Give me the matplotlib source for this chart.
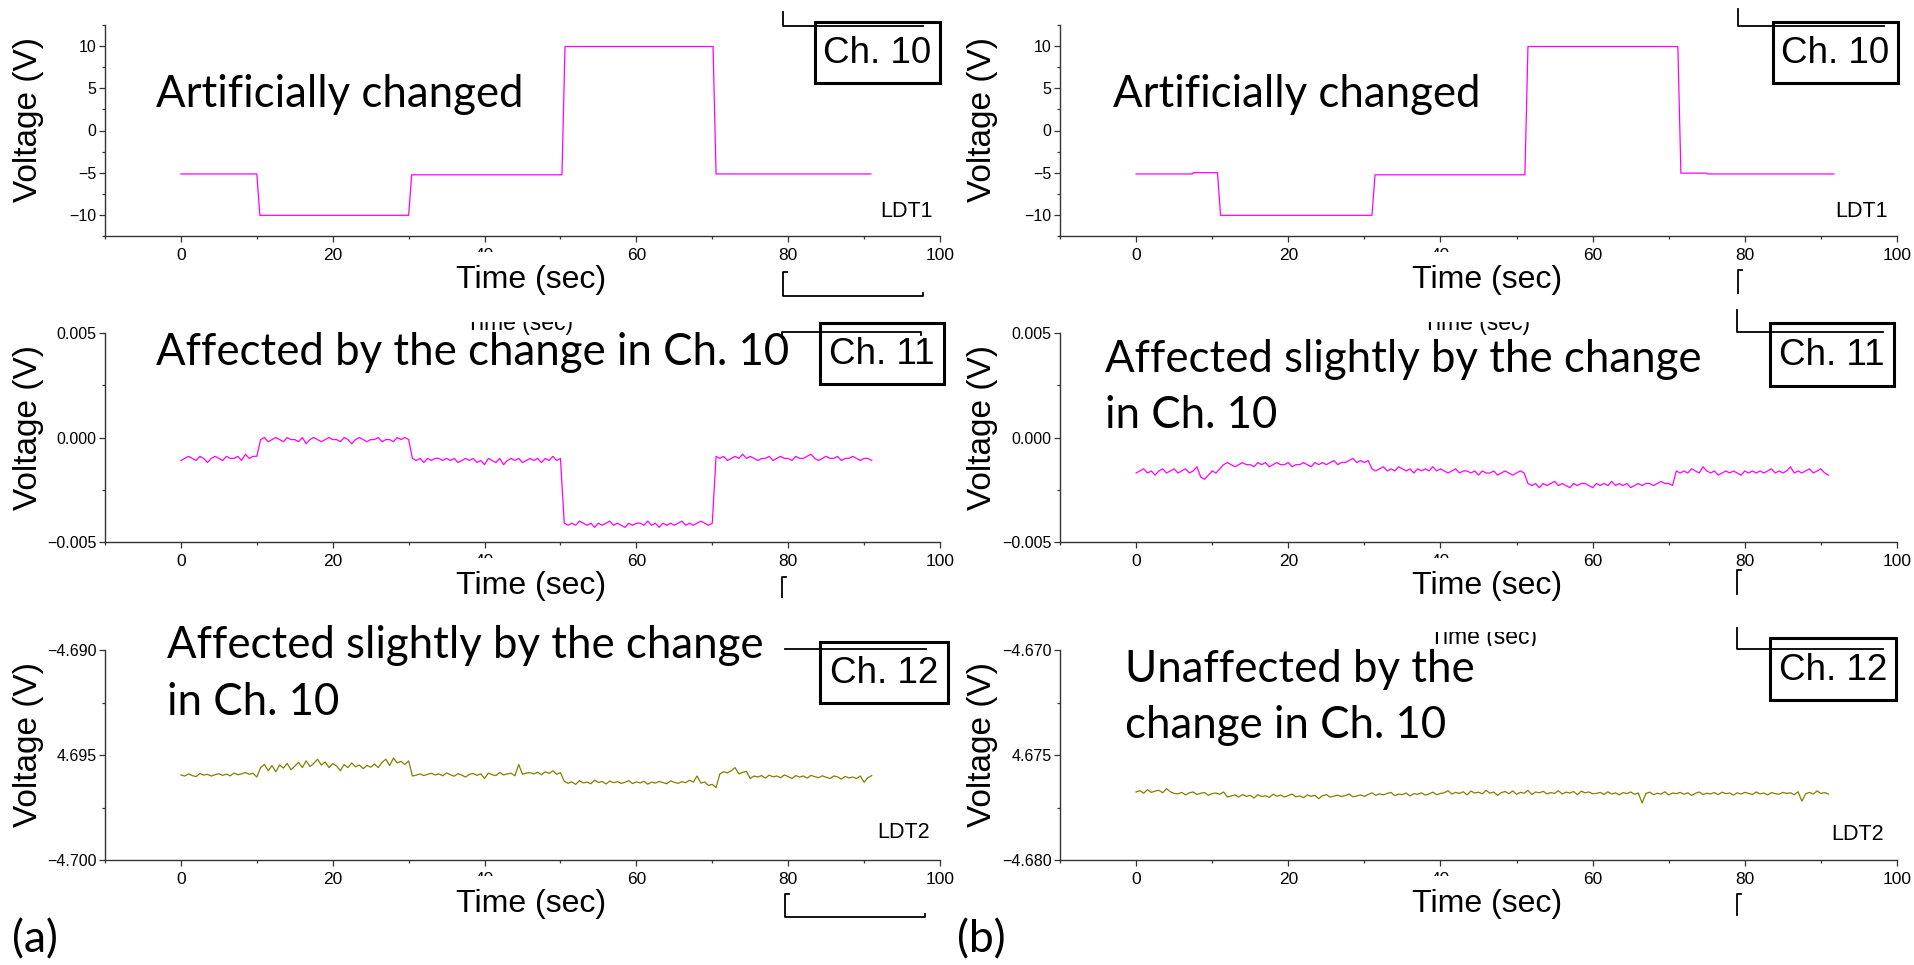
import numpy as np
import matplotlib
matplotlib.use('Agg')
from matplotlib import pyplot as plt
from matplotlib import font_manager
from matplotlib.patches import Rectangle
from matplotlib.lines import Line2D
from matplotlib.ticker import FixedLocator, FixedFormatter, MultipleLocator
from matplotlib.transforms import Bbox, TransformedBbox

W, H = 1915, 965

# ---- data ----
# Ch. 10 (step signal, breakpoints in sec / V)
ch10a_t = [0, 10.0, 10.4, 30.0, 30.4, 50.2, 50.6, 70.1, 70.5, 90.9]
ch10a_v = [-5.15, -5.15, -10.05, -10.05, -5.25, -5.25, 9.95, 9.95, -5.15, -5.15]
ch10b_t = [0, 7.4, 7.5, 10.7, 11.1, 31.0, 31.4, 51.1, 51.5, 71.2, 71.6, 75.0, 75.1, 91.7]
ch10b_v = [-5.15, -5.15, -5.0, -5.0, -10.05, -10.05, -5.25, -5.25, 9.95, 9.95, -5.05, -5.05, -5.15, -5.15]

# Ch. 11, samples every 0.5 s, in units of 0.1 mV
ch11a = [-11, -10, -9, -10, -11, -9, -10, -12, -10, -9, -10, -11, -9, -10, -10, -9, -11, -8, -10, -9, -9,
         -1, 0, -2, -1, 0, -1, -2, 0, -1, -1, -2, 0, -3, -1, 0, -1, -2, -1, 0, -1,
         -1, -2, 0, -1, -3, -1, 0, -1, -2, -1, -1, 0, -2, -1, -1, -2, 0, -1, 0, -1,
         -10, -11, -10, -12, -10, -11, -10, -10, -11, -10, -11, -10, -12, -11, -10, -11, -10, -12, -11, -13,
         -10, -11, -12, -10, -13, -11, -10, -11, -10, -12, -11, -10, -11, -10, -12, -10, -11, -9, -11, -10,
         -41, -42, -41, -42, -40, -41, -42, -41, -43, -41, -42, -41, -40, -42, -41, -42, -43, -41, -42, -41,
         -41, -42, -40, -42, -41, -43, -41, -42, -41, -42, -41, -40, -42, -41, -42, -41, -40, -41, -42, -41,
         -9, -10, -9, -11, -10, -9, -10, -8, -10, -9, -10, -11, -10, -10, -9, -11, -10, -9, -10, -10,
         -11, -9, -10, -10, -9, -8, -10, -11, -10, -9, -10, -10, -9, -11, -10, -10, -9, -10, -11, -10, -10, -11]
ch11b = [-17, -16, -15, -17, -16, -18, -16, -15, -17, -16, -15, -17, -16, -15, -17, -16, -14, -19, -20, -18, -16, -17, -15,
         -13, -12, -13, -14, -13, -12, -13, -13, -14, -12, -13, -12, -14, -13, -12, -13, -13, -12, -14, -13,
         -13, -12, -13, -14, -12, -13, -12, -13, -12, -11, -13, -12, -12, -11, -10, -12, -11, -12, -11,
         -15, -16, -15, -14, -16, -15, -16, -14, -15, -16, -15, -17, -15, -16, -15, -16, -14, -16, -15, -16,
         -17, -16, -15, -17, -16, -16, -17, -16, -18, -16, -17, -17, -16, -18, -17, -16, -17, -18, -17, -16, -17,
         -22, -23, -22, -24, -22, -23, -22, -21, -23, -22, -23, -24, -22, -23, -22, -22, -23, -24, -22, -23,
         -22, -23, -21, -23, -22, -23, -22, -24, -23, -22, -23, -22, -22, -23, -22, -21, -22, -22, -23,
         -16, -17, -16, -17, -15, -16, -17, -14, -16, -17, -16, -18, -17, -16, -17, -16, -17, -18, -16, -17,
         -16, -17, -16, -17, -16, -15, -17, -16, -17, -16, -14, -17, -16, -17, -16, -15, -17, -16, -15, -17, -18]

# Ch. 12, samples every 0.5 s, offsets in units of 10 uV from the top tick
ch12a_top = -4.690
ch12a = [-595, -600, -590, -598, -603, -588, -596, -592, -600, -594, -589, -597, -591, -599, -586, -594, -590, -583, -592, -587, -605,
         -560, -545, -575, -550, -580, -548, -562, -540, -570, -553, -535, -560, -528, -555, -540, -520, -548, -533, -560, -541,
         -552, -575, -545, -560, -538, -556, -548, -565, -550, -558, -543, -560, -535, -520, -550, -515, -538, -530, -545, -528,
         -600, -596, -590, -598, -592, -587, -595, -590, -599, -585, -594, -601, -589, -596, -605, -592, -588, -597, -590, -612,
         -586, -594, -598, -583, -595, -590, -587, -599, -545, -592, -586, -584, -590, -582, -594, -580, -588, -575, -592, -584,
         -625, -635, -628, -640, -622, -633, -629, -637, -620, -631, -626, -638, -624, -632, -627, -635, -630, -622, -636, -628,
         -633, -625, -639, -629, -634, -626, -631, -637, -623, -630, -635, -627, -632, -620, -629, -600, -634, -628, -645, -640, -655,
         -590, -580, -585, -575, -560, -590, -583, -578, -612, -600, -605, -598, -610, -596, -604, -600, -608, -595, -603, -612,
         -598, -605, -600, -610, -597, -603, -608, -599, -606, -612, -600, -604, -615, -602, -609, -605, -612, -600, -630, -608, -598]
ch12b_top = -4.670
ch12b = [-676, -670, -682, -665, -678, -672, -668, -680, -660, -675, -683,
         -685, -678, -690, -680, -676, -688, -682, -679, -692, -684, -681, -687, -676, -700,
         -695, -690, -700, -688, -697, -692, -705, -689, -698, -694, -702, -687, -696, -691, -700, -693, -686, -699,
         -695, -703, -690, -697, -692, -708, -694, -689, -700, -696, -691, -698, -693, -686, -699, -695, -690, -697,
         -688, -680, -692, -685, -690, -683, -678, -694, -686, -689, -681, -695, -684, -687, -680, -691, -685, -677, -689, -683,
         -680, -670, -686, -678, -683, -675, -690, -672, -681, -677, -685, -668, -682, -676, -692, -679, -674, -684, -671, -687,
         -678, -682, -669, -688, -676, -680, -673, -685, -679, -683, -670, -686, -677, -681, -674, -689, -672, -680, -676, -684,
         -683, -678, -688, -675, -686, -680, -690, -679, -684, -676, -687, -681, -728, -683, -677, -689, -682, -686, -675, -690,
         -681, -684, -678, -687, -680, -692, -683, -676, -688, -682, -685, -679, -689, -677, -684, -681, -691, -680, -686, -678,
         -683, -688, -676, -685, -681, -690, -679, -684, -687, -678, -683, -680, -689, -675, -720, -684, -678, -686, -671, -683,
         -679, -686]

sample_step = 0.5

yticks_top = [-10, -5, 0, 5, 10]
yticklabels_top = ['\u221210', '\u22125', '0', '5', '10']
yticks_mid = [-0.005, 0.0, 0.005]
yticklabels_mid = ['\u22120.005', '0.000', '0.005']
yticks_bot_a = [-4.700, -4.695, -4.690]
yticklabels_bot_a = ['\u22124.700', '4.695', '\u22124.690']
yticks_bot_b = [-4.680, -4.675, -4.670]
yticklabels_bot_b = ['\u22124.680', '4.675', '\u22124.670']
xticks = [0, 20, 40, 60, 80, 100]

MAGENTA = '#ff00ff'
OLIVE = '#808000'

installed = {f.name for f in font_manager.fontManager.ttflist}
SANS = 'Liberation Sans' if 'Liberation Sans' in installed else 'DejaVu Sans'
NOTE = next((n for n in ['Lato', 'Open Sans', 'Noto Sans'] if n in installed), SANS)
plt.rcParams['font.family'] = SANS


def fx(x):
    return x / W


def fy(y):
    return 1 - y / H


def series(vals, scale, offset=0.0):
    v = offset + np.array(vals, dtype=float) * scale
    t = sample_step * np.arange(len(v))
    return t, v


def clip_rows(artist, top, bottom):
    # keep only the part of an artist between two pixel rows
    artist.set_clip_box(TransformedBbox(Bbox([[0, fy(bottom)], [1, fy(top)]]), fig.transFigure))
    artist.set_clip_on(True)


fig = plt.figure(figsize=(W / 100, H / 100), dpi=100)

cols = {'a': (105, 940), 'b': (1060, 1897)}
rows = [(25, 236), (333, 542), (650, 860)]

panels = [
    # col, row, data, color, ylim, ticks, labels, minor
    ('a', 0, (ch10a_t, ch10a_v), MAGENTA, (-12.5, 12.5), yticks_top, yticklabels_top, 2.5),
    ('b', 0, (ch10b_t, ch10b_v), MAGENTA, (-12.5, 12.5), yticks_top, yticklabels_top, 2.5),
    ('a', 1, series(ch11a, 1e-4), MAGENTA, (-0.005, 0.005), yticks_mid, yticklabels_mid, 0.0025),
    ('b', 1, series(ch11b, 1e-4), MAGENTA, (-0.005, 0.005), yticks_mid, yticklabels_mid, 0.0025),
    ('a', 2, series(ch12a, 1e-5, ch12a_top), OLIVE, (-4.700, -4.690), yticks_bot_a, yticklabels_bot_a, 0.0025),
    ('b', 2, series(ch12b, 1e-5, ch12b_top), OLIVE, (-4.680, -4.670), yticks_bot_b, yticklabels_bot_b, 0.0025),
]

for col, row, (t, v), color, ylim, yt, ytl, minor in panels:
    x0, x1 = cols[col]
    y0, y1 = rows[row]
    ax = fig.add_axes([fx(x0), fy(y1), (x1 - x0) / W, (y1 - y0) / H])
    ax.set_facecolor('none')
    ax.plot(t, v, color=color, lw=0.9)
    ax.set_xlim(-10, 100)
    ax.set_ylim(*ylim)
    ax.xaxis.set_major_locator(FixedLocator(xticks))
    ax.xaxis.set_minor_locator(MultipleLocator(10))
    ax.yaxis.set_major_locator(FixedLocator(yt))
    ax.yaxis.set_major_formatter(FixedFormatter(ytl))
    ax.yaxis.set_minor_locator(MultipleLocator(minor))
    for s in ['top', 'right']:
        ax.spines[s].set_visible(False)
    for s in ['left', 'bottom']:
        ax.spines[s].set_color('#333333')
        ax.spines[s].set_linewidth(1.0)
    ax.tick_params(which='major', direction='out', length=4, width=0.9, color='#333333')
    ax.tick_params(which='minor', direction='out', length=2.5, width=0.9, color='#333333')
    ax.tick_params(axis='x', labelsize=12.5, pad=5)
    ax.tick_params(axis='y', labelsize=11.5, pad=2)
    ax.set_xlabel('Time (sec)', fontsize=23, va='center')
    ax.xaxis.set_label_coords(0.51, -0.21)
    ax.set_ylabel('Voltage (V)', fontsize=24, va='center')
    ax.yaxis.set_label_coords(-0.092, 0.55)
    # the "40" label is covered in the reference, only its top shows
    clip_rows(ax.xaxis.get_major_ticks()[2].label1, y1, y1 + 16)

# channel boxes: (x0, y0, x1, y1, label)
boxes = [
    (815, 22, 940, 83, 'Ch. 10'),
    (820, 323, 944, 384, 'Ch. 11'),
    (820, 642, 948, 703, 'Ch. 12'),
    (1773, 22, 1898, 83, 'Ch. 10'),
    (1770, 323, 1894, 386, 'Ch. 11'),
    (1770, 638, 1896, 700, 'Ch. 12'),
]
for x0, y0, x1, y1, lab in boxes:
    fig.patches.append(Rectangle((fx(x0), fy(y1)), (x1 - x0) / W, (y1 - y0) / H,
                                 transform=fig.transFigure, fill=False, lw=2.2, ec='black'))
    fig.text(fx((x0 + x1) / 2), fy((y0 + y1) / 2 + 1), lab, ha='center', va='center', fontsize=26.5)

# notes: (x, baseline, text)
notes = [
    (156, 107, 'Artificially changed'),
    (1113, 107, 'Artificially changed'),
    (156, 365, 'Affected by the change in Ch. 10'),
    (1105, 372, 'Affected slightly by the change'),
    (1105, 428, 'in Ch. 10'),
    (167, 658, 'Affected slightly by the change'),
    (167, 715, 'in Ch. 10'),
    (1125, 682, 'Unaffected by the'),
    (1125, 738, 'change in Ch. 10'),
]
for x, y, s in notes:
    fig.text(fx(x), fy(y), s, ha='left', va='baseline', fontsize=31.5, family=NOTE)

for x, y, s in [(880, 217, 'LDT1'), (1835, 217, 'LDT1'), (877, 838, 'LDT2'), (1831, 840, 'LDT2')]:
    fig.text(fx(x), fy(y), s, ha='left', va='baseline', fontsize=15.5)

fig.text(fx(12), fy(952), '(a)', ha='left', va='baseline', fontsize=32, family=NOTE)
fig.text(fx(957), fy(952), '(b)', ha='left', va='baseline', fontsize=32, family=NOTE)

# leftover fragments of the underlying plot layers
frag_lines = [
    [(783, 12), (783, 26), (923, 26)],
    [(787, 272), (783, 272), (783, 296), (923, 296), (923, 293)],
    [(782, 335), (782, 332), (921, 332), (921, 335)],
    [(786, 577), (782, 577), (782, 597)],
    [(785, 649), (926, 649)],
    [(789, 894), (785, 894), (785, 917), (925, 917), (925, 914)],
    [(1738, 9), (1738, 26), (1884, 26)],
    [(1742, 270), (1738, 270), (1738, 293)],
    [(1737, 310), (1737, 332), (1883, 332)],
    [(1741, 570), (1737, 570), (1737, 594)],
    [(1737, 628), (1737, 649), (1883, 649)],
    [(1741, 894), (1737, 894), (1737, 915)],
]
for pts in frag_lines:
    xs = [fx(p[0]) for p in pts]
    ys = [fy(p[1]) for p in pts]
    fig.lines.append(Line2D(xs, ys, transform=fig.transFigure, color='black', lw=1.3))

for xc, base, top, bottom in [(520, 330, 322, 340), (1477, 330, 322, 340), (1483, 644, 632, 646)]:
    txt = fig.text(fx(xc), fy(base), 'Time (sec)', ha='center', va='baseline', fontsize=16.5)
    clip_rows(txt, top, bottom)

fig.savefig('out.png', dpi=100)
